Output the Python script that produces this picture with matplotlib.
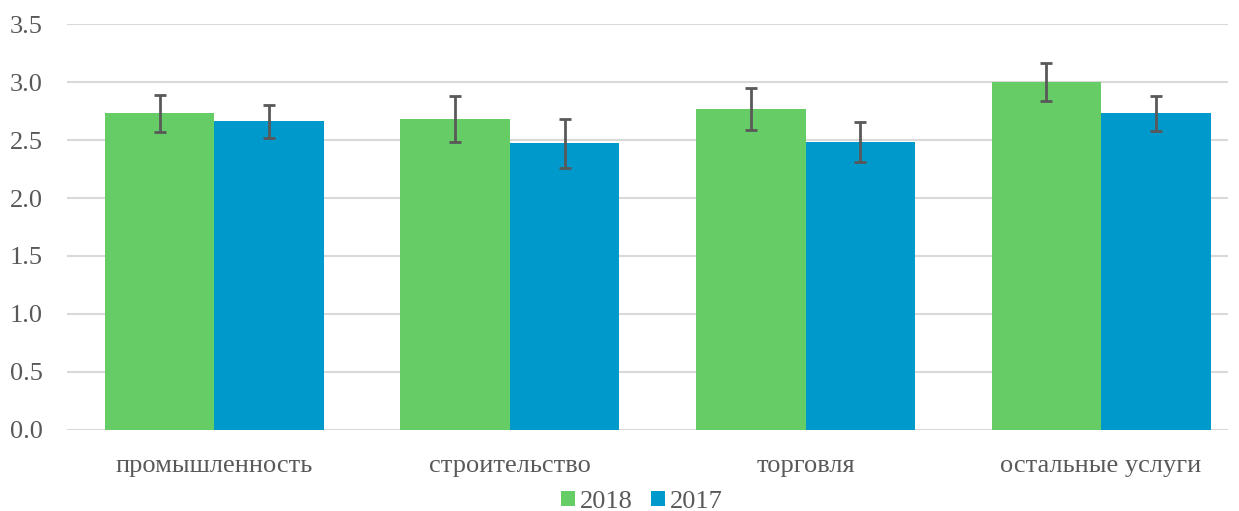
import matplotlib
matplotlib.use("Agg")
import matplotlib.pyplot as plt
import numpy as np

categories = ["промышленность", "строительство", "торговля", "остальные услуги"]
series_names = ["2018", "2017"]
values_2018 = [2.73, 2.68, 2.77, 3.00]
errors_2018 = [0.158, 0.198, 0.18, 0.163]
values_2017 = [2.66, 2.47, 2.48, 2.73]
errors_2017 = [0.143, 0.21, 0.172, 0.153]

plt.rcParams['font.family'] = ['Liberation Serif', 'DejaVu Serif']
text_color = "#595959"
fs = 19

W, H = 1239, 511
fig = plt.figure(figsize=(W / 100, H / 100), dpi=100)
left_px, right_px, top_px, bottom_px = 66.5, 1228, 24, 430
ax = fig.add_axes([left_px / W, 1 - bottom_px / H, (right_px - left_px) / W, (bottom_px - top_px) / H])

x = np.arange(len(categories))
w = 0.3705
ekw = dict(ecolor="#595959", elinewidth=2.0, capsize=4.5, capthick=2.0)
ax.bar(x - w / 2, values_2018, w, yerr=errors_2018, color="#66CC66",
       label=series_names[0], error_kw=ekw, zorder=3)
ax.bar(x + w / 2, values_2017, w, yerr=errors_2017, color="#0099CC",
       label=series_names[1], error_kw=ekw, zorder=3)

cat_px = 295.6
ax.set_xlim(-0.5, -0.5 + (right_px - left_px) / cat_px)
ax.set_ylim(0, 3.5)
ax.set_yticks(np.arange(0, 3.51, 0.5))
ax.set_yticklabels([f"{v:.1f}" for v in np.arange(0, 3.51, 0.5)])
ax.set_xticks(x)
ax.set_xticklabels(categories)
ax.grid(axis="y", color="#D9D9D9", linewidth=1.5, zorder=0)
ax.set_axisbelow(True)
for s in ax.spines.values():
    s.set_visible(False)
ax.tick_params(axis="both", length=0, colors=text_color, labelsize=fs)
ax.tick_params(axis="y", pad=17)
ax.tick_params(axis="x", pad=18)

leg = fig.legend(loc="center", bbox_to_anchor=(642 / W, 1 - 502 / H), ncol=2,
                 frameon=False, fontsize=fs, handlelength=0.53, handleheight=0.53,
                 handletextpad=0.19, columnspacing=0.68, borderpad=0, borderaxespad=0)
for t in leg.get_texts():
    t.set_color(text_color)

fig.savefig("out.png", dpi=100)
